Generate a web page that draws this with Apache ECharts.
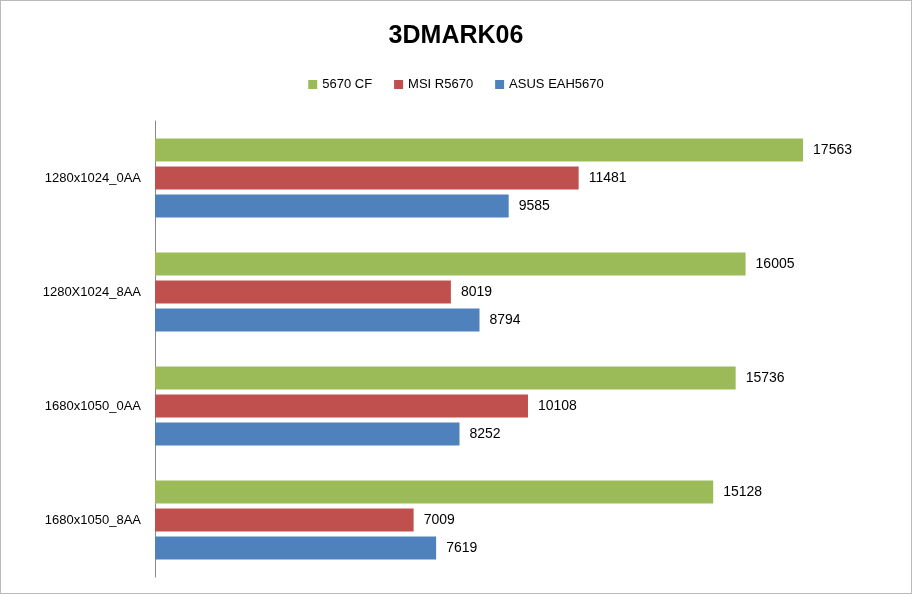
<!DOCTYPE html>
<html><head><meta charset="utf-8">
<script src="https://cdn.jsdelivr.net/npm/echarts@6/dist/echarts.min.js"></script>
<style>body{margin:0}#main{width:912px;height:594px;box-sizing:border-box;border:1px solid #bbb}</style>
</head><body><div id="main"></div>
<script>
var categories = ['1280x1024_0AA', '1280X1024_8AA', '1680x1050_0AA', '1680x1050_8AA'];
var cf = [17563, 16005, 15736, 15128];
var msi = [11481, 8019, 10108, 7009];
var asus = [9585, 8794, 8252, 7619];

var myChart = echarts.init(document.getElementById('main'));
var lbl = {show: true, position: 'right', color: '#000', fontSize: 14, fontFamily: 'Liberation Sans', distance: 10};
option = {
    title: {text: '3DMARK06', left: 'center', top: 18,
        textStyle: {fontSize: 25, fontWeight: 'bold', color: '#000', fontFamily: 'Liberation Sans'}},
    legend: {top: 72, left: 'center', itemWidth: 9, itemHeight: 9, icon: 'rect', itemGap: 22,
        textStyle: {fontSize: 13, fontFamily: 'Liberation Sans', color: '#000'},
        data: ['5670 CF', 'MSI R5670', 'ASUS EAH5670']},
    grid: {left: 154, right: 11, top: 120, bottom: 16},
    xAxis: {type: 'value', min: 0, max: 20190, show: false},
    yAxis: {type: 'category', data: categories, inverse: true,
        axisLine: {lineStyle: {color: '#888'}}, axisTick: {show: false},
        axisLabel: {color: '#000', fontSize: 13, fontFamily: 'Liberation Sans', margin: 14}},
    series: [
        {name: '5670 CF', type: 'bar', data: cf, barWidth: 23, barGap: '22%', itemStyle: {color: '#9bbb59'}, label: lbl},
        {name: 'MSI R5670', type: 'bar', data: msi, barWidth: 23, barGap: '22%', itemStyle: {color: '#c0504d'}, label: lbl},
        {name: 'ASUS EAH5670', type: 'bar', data: asus, barWidth: 23, barGap: '22%', itemStyle: {color: '#4f81bd'}, label: lbl}
    ]
};
myChart.setOption(option);
</script></body></html>
